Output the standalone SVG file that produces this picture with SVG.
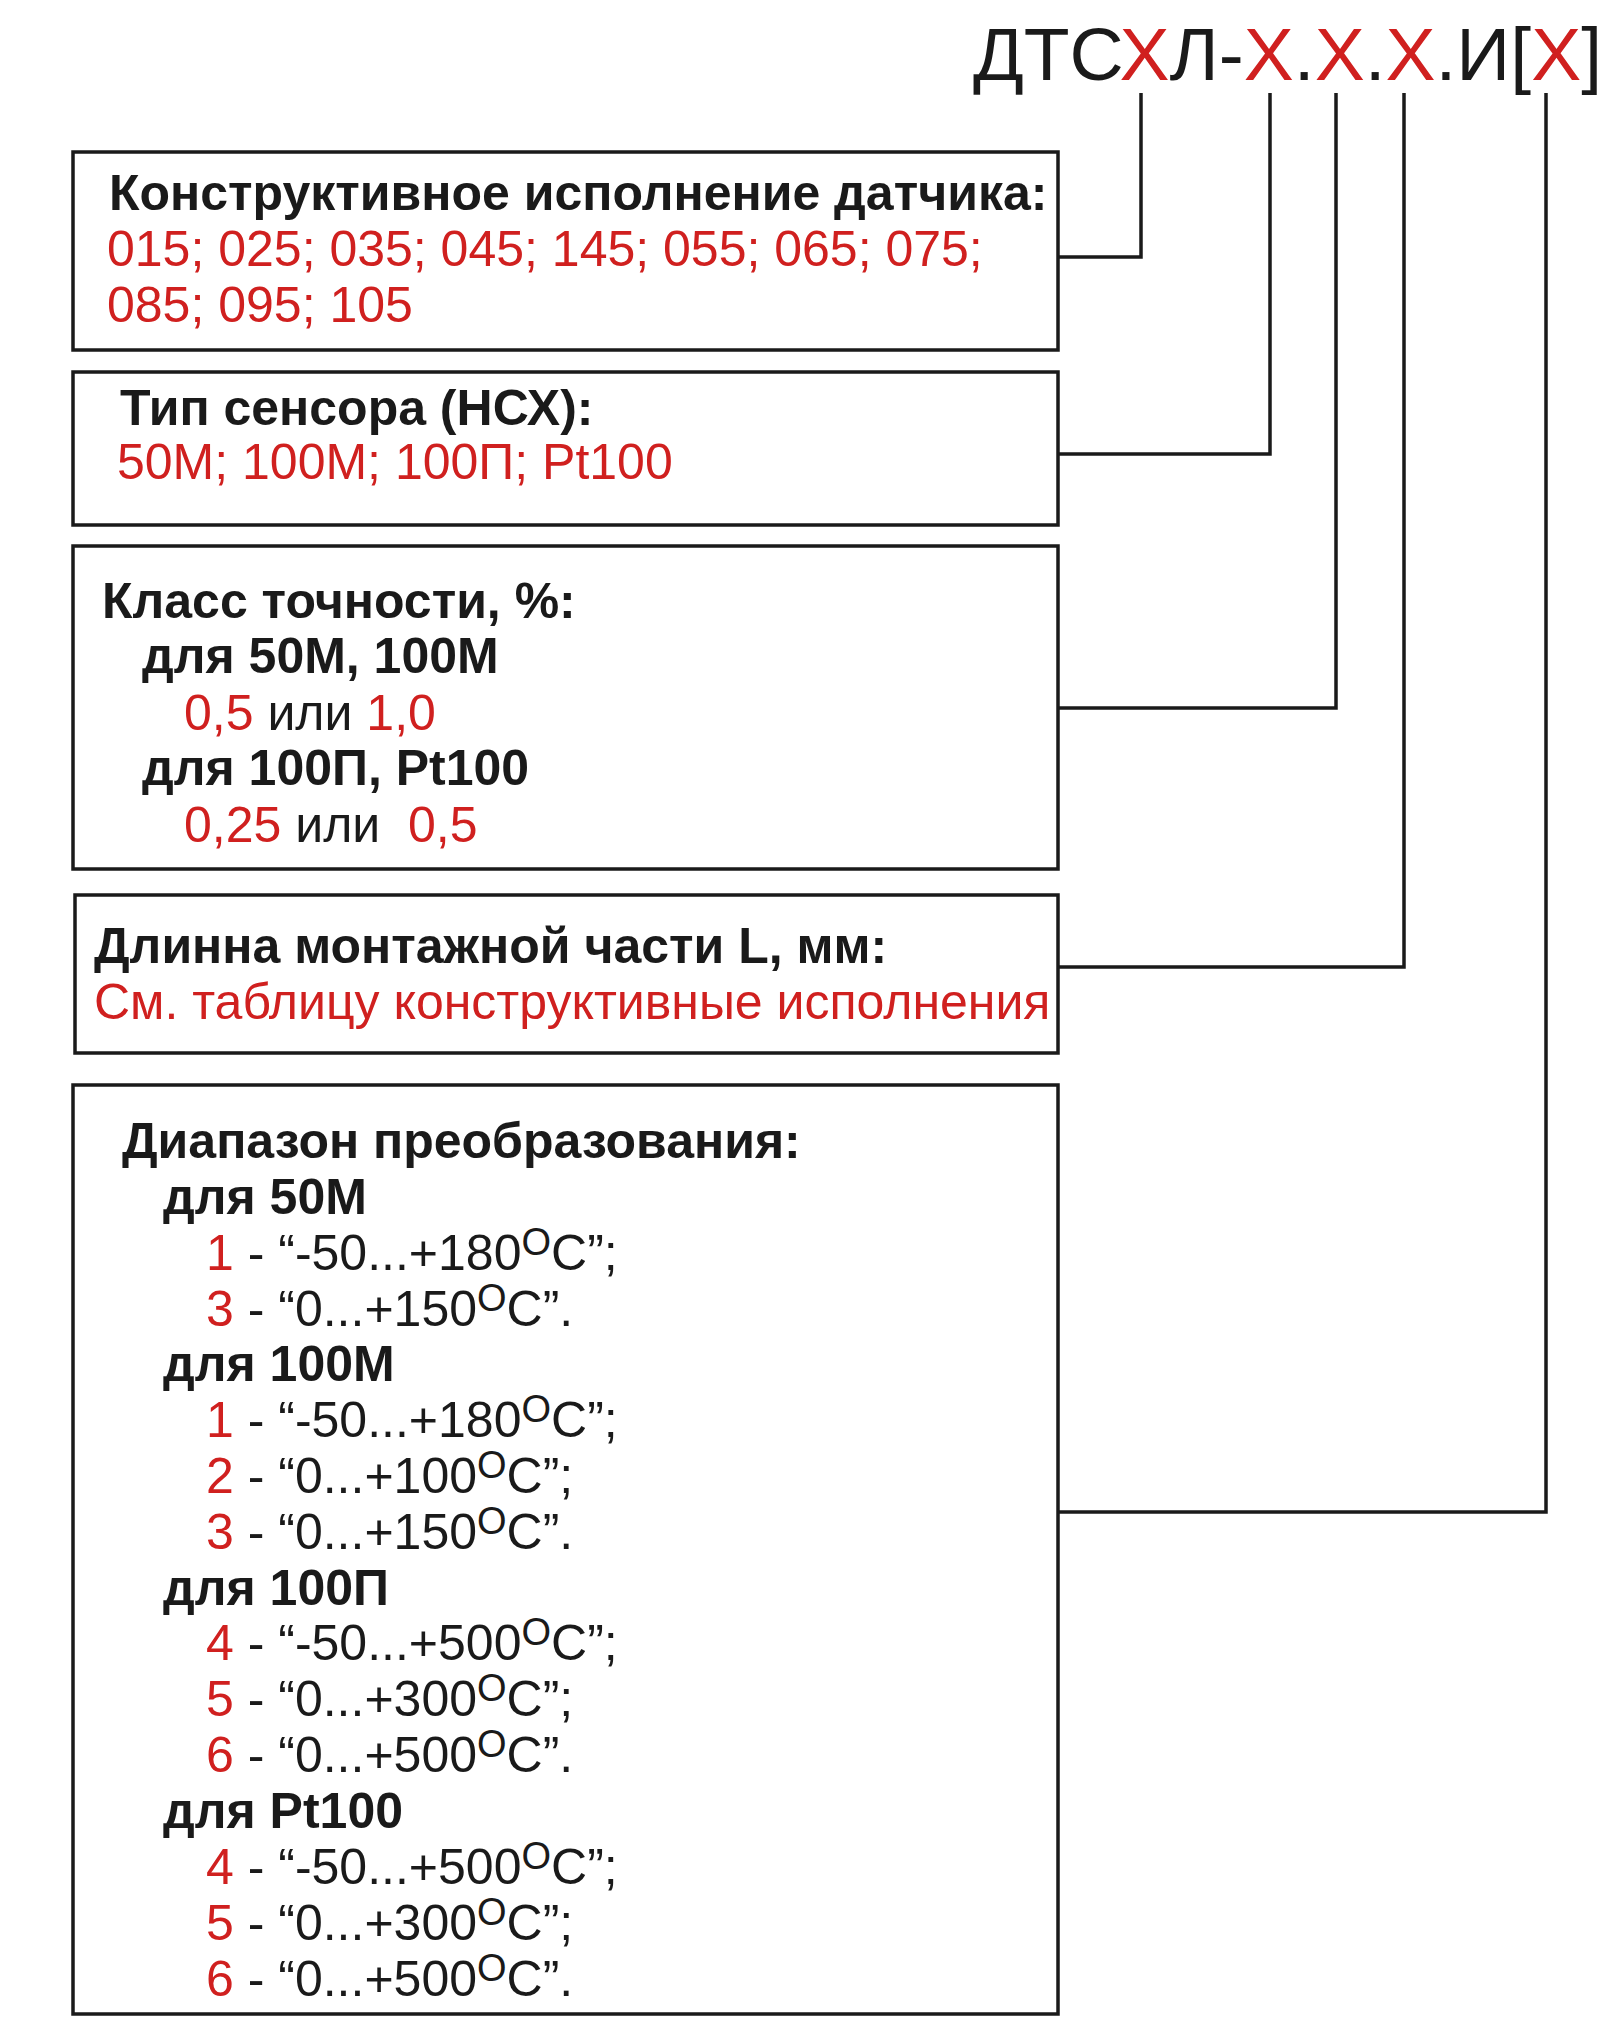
<svg xmlns="http://www.w3.org/2000/svg" width="1618" height="2018" viewBox="0 0 1618 2018">
<style>
.box{fill:#fff;stroke:#1a1a1a;stroke-width:3.5}
.con{fill:none;stroke:#1a1a1a;stroke-width:3.5}
text{font-family:"Liberation Sans",Arial,sans-serif;fill:#1a1a1a}
.b{font-weight:bold;font-size:50px}
.r{font-size:50px}
.red{fill:#d0201f}
.t{font-size:75px}
.sup{font-size:38px}
</style>
<rect width="1618" height="2018" fill="#fff"/>
<g id="title">
<text class="t" x="1602" y="80" text-anchor="end">ДТС<tspan class="red">Х</tspan>Л-<tspan class="red">Х</tspan>.<tspan class="red">Х</tspan>.<tspan class="red">Х</tspan>.И[<tspan class="red">Х</tspan>]</text>
</g>
<g id="connectors">
<polyline class="con" points="1058,257 1141,257 1141,93"/>
<polyline class="con" points="1058,454 1270,454 1270,93"/>
<polyline class="con" points="1058,708 1336,708 1336,93"/>
<polyline class="con" points="1058,967 1404,967 1404,93"/>
<polyline class="con" points="1058,1512 1546,1512 1546,93"/>
</g>
<g id="box1">
<rect class="box" x="73" y="152" width="985" height="198"/>
<text class="b" x="109" y="210">Конструктивное исполнение датчика:</text>
<text class="r red" x="107" y="266">015; 025; 035; 045; 145; 055; 065; 075;</text>
<text class="r red" x="107" y="322">085; 095; 105</text>
</g>
<g id="box2">
<rect class="box" x="73" y="372" width="985" height="153"/>
<text class="b" x="120" y="425">Тип сенсора (НСХ):</text>
<text class="r red" x="117" y="479">50М; 100М; 100П; Pt100</text>
</g>
<g id="box3">
<rect class="box" x="73" y="546" width="985" height="323"/>
<text class="b" x="102" y="618">Класс точности, %:</text>
<text class="b" x="142" y="673">для 50М, 100М</text>
<text class="r" x="184" y="730"><tspan class="red">0,5</tspan> или <tspan class="red">1,0</tspan></text>
<text class="b" x="142" y="785">для 100П, Pt100</text>
<text class="r" x="184" y="842"><tspan class="red">0,25</tspan> или&#160; <tspan class="red">0,5</tspan></text>
</g>
<g id="box4">
<rect class="box" x="75" y="895" width="983" height="158"/>
<text class="b" x="94" y="963">Длинна монтажной части L, мм:</text>
<text class="r red" x="94" y="1019">См. таблицу конструктивные исполнения</text>
</g>
<g id="box5">
<rect class="box" x="73" y="1085" width="985" height="929"/>
<text class="b" x="122" y="1158">Диапазон преобразования:</text>
<text class="b" x="163" y="1214">для 50М</text>
<text class="r" x="206" y="1270"><tspan class="red">1</tspan> - “-50...+180<tspan class="sup" dy="-15">O</tspan><tspan dy="15">C”;</tspan></text>
<text class="r" x="206" y="1326"><tspan class="red">3</tspan> - “0...+150<tspan class="sup" dy="-15">O</tspan><tspan dy="15">C”.</tspan></text>
<text class="b" x="163" y="1381">для 100М</text>
<text class="r" x="206" y="1437"><tspan class="red">1</tspan> - “-50...+180<tspan class="sup" dy="-15">O</tspan><tspan dy="15">C”;</tspan></text>
<text class="r" x="206" y="1493"><tspan class="red">2</tspan> - “0...+100<tspan class="sup" dy="-15">O</tspan><tspan dy="15">C”;</tspan></text>
<text class="r" x="206" y="1549"><tspan class="red">3</tspan> - “0...+150<tspan class="sup" dy="-15">O</tspan><tspan dy="15">C”.</tspan></text>
<text class="b" x="163" y="1605">для 100П</text>
<text class="r" x="206" y="1660"><tspan class="red">4</tspan> - “-50...+500<tspan class="sup" dy="-15">O</tspan><tspan dy="15">C”;</tspan></text>
<text class="r" x="206" y="1716"><tspan class="red">5</tspan> - “0...+300<tspan class="sup" dy="-15">O</tspan><tspan dy="15">C”;</tspan></text>
<text class="r" x="206" y="1772"><tspan class="red">6</tspan> - “0...+500<tspan class="sup" dy="-15">O</tspan><tspan dy="15">C”.</tspan></text>
<text class="b" x="163" y="1828">для Pt100</text>
<text class="r" x="206" y="1884"><tspan class="red">4</tspan> - “-50...+500<tspan class="sup" dy="-15">O</tspan><tspan dy="15">C”;</tspan></text>
<text class="r" x="206" y="1940"><tspan class="red">5</tspan> - “0...+300<tspan class="sup" dy="-15">O</tspan><tspan dy="15">C”;</tspan></text>
<text class="r" x="206" y="1996"><tspan class="red">6</tspan> - “0...+500<tspan class="sup" dy="-15">O</tspan><tspan dy="15">C”.</tspan></text>
</g>
</svg>
